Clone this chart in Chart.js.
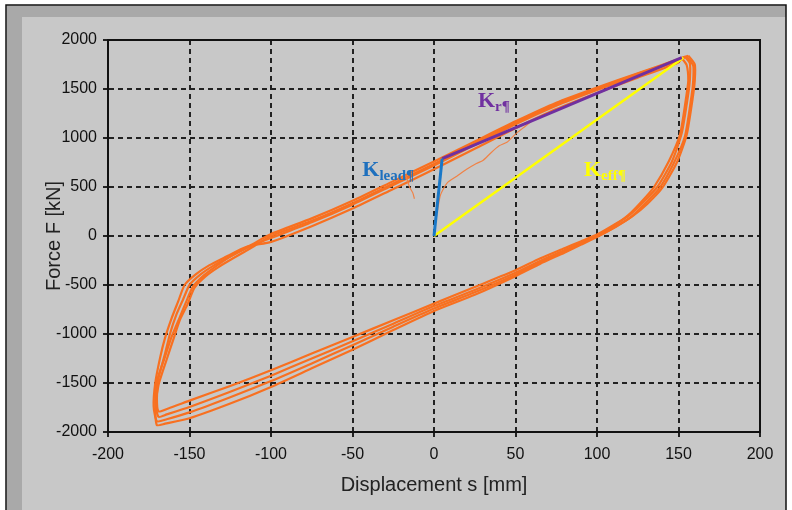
<!DOCTYPE html>
<html>
<head>
<meta charset="utf-8">
<script src="https://cdn.jsdelivr.net/npm/chart.js@4/dist/chart.umd.min.js"></script>
<style>
  html, body { margin: 0; padding: 0; background: #fff; }
  #wrap { width: 792px; height: 510px; position: relative; }
</style>
</head>
<body>
<div id="wrap"><canvas id="myChart"></canvas></div>
<script>
(function () {
  "use strict";

  // hysteresis cycles, displacement [mm] / force [kN]
  var disp1 = [154, 157, 157, 156, 152, 146, 137, 128, 120, 110, 100, 90, 80, 65, 50, 25, 0, -25, -50, -75, -100, -125, -150, -163, -169, -170, -169, -165, -162, -158, -154, -150, -143, -135, -125, -112, -100, -75, -50, -25, 0, 25, 50, 75, 100, 125, 150, 154];
  var force1 = [1830, 1760, 1600, 1450, 1050, 760, 500, 340, 214, 110, 15, -55, -125, -230, -350, -520, -690, -860, -1030, -1200, -1370, -1530, -1680, -1760, -1790, -1650, -1450, -1200, -1000, -800, -650, -500, -390, -300, -210, -100, -20, 140, 320, 520, 720, 930, 1140, 1330, 1490, 1640, 1790, 1830];

  var disp2 = [156, 160, 160, 159, 155, 149, 140, 131, 122, 112, 101, 90, 80, 65, 50, 25, 0, -25, -50, -75, -100, -125, -150, -164, -169, -171, -170, -165, -161, -156, -152, -148, -141, -133, -124, -111, -100, -75, -50, -25, 0, 25, 50, 75, 100, 125, 150, 156];
  var force2 = [1840, 1750, 1590, 1440, 1030, 750, 490, 330, 205, 100, 5, -70, -145, -255, -375, -550, -715, -895, -1075, -1250, -1425, -1590, -1745, -1820, -1845, -1700, -1480, -1230, -1030, -830, -670, -520, -400, -300, -200, -80, 20, 180, 360, 560, 760, 965, 1170, 1360, 1515, 1660, 1805, 1840];

  var disp3 = [152, 155, 156, 155, 151, 144, 135, 127, 119, 110, 100, 90, 80, 65, 50, 25, 0, -25, -50, -75, -100, -125, -150, -164, -170, -172, -171, -168, -165, -161, -157, -153, -146, -138, -128, -115, -100, -75, -50, -25, 0, 25, 50, 75, 100, 125, 150, 152];
  var force3 = [1815, 1745, 1590, 1450, 1040, 760, 500, 345, 210, 100, 0, -80, -160, -270, -395, -575, -740, -925, -1115, -1300, -1480, -1645, -1800, -1870, -1890, -1740, -1500, -1240, -1040, -840, -670, -500, -390, -300, -215, -110, -60, 100, 280, 480, 680, 890, 1100, 1295, 1460, 1615, 1770, 1815];

  var disp4 = [155, 159, 159, 158, 154, 147, 138, 129, 121, 111, 100, 90, 80, 65, 50, 25, 0, -25, -50, -75, -100, -125, -150, -165, -170, -171, -169, -164, -160, -156, -151, -147, -140, -132, -123, -110, -100, -75, -50, -25, 0, 25, 50, 75, 100, 125, 150, 155];
  var force4 = [1830, 1740, 1580, 1430, 1020, 740, 480, 325, 195, 90, -10, -90, -170, -285, -410, -600, -765, -960, -1160, -1350, -1540, -1710, -1860, -1915, -1930, -1760, -1520, -1260, -1060, -860, -690, -530, -410, -315, -225, -100, 0, 155, 335, 535, 735, 945, 1155, 1345, 1505, 1655, 1800, 1830];

  // first loading (thin lines)
  var initDisp = [2, 4, 8, 14, 20, 26, 30, 35, 40, 45, 50, 56, 62];
  var initForce = [250, 420, 540, 610, 680, 740, 770, 850, 920, 960, 1040, 1120, 1200];
  var hookDisp = [-12, -13, -15, -17, -18];
  var hookForce = [380, 440, 500, 600, 630];

  // stiffness lines
  var kleadDisp = [0, 5];
  var kleadForce = [0, 790];
  var krDisp = [5, 152];
  var krForce = [790, 1820];
  var keffDisp = [0, 153];
  var keffForce = [0, 1818];

  var xTicks = [-200, -150, -100, -50, 0, 50, 100, 150, 200];
  var yTicks = [-2000, -1500, -1000, -500, 0, 500, 1000, 1500, 2000];

  function pts(xs, ys) {
    var out = [];
    for (var i = 0; i < xs.length; i++) out.push({ x: xs[i], y: ys[i] });
    return out;
  }

  var orange = "rgb(248,112,32)";

  function loop(xs, ys) {
    return {
      data: pts(xs, ys),
      showLine: true,
      borderColor: orange,
      borderWidth: 2.2,
      pointRadius: 0,
      tension: 0.2,
      order: 5
    };
  }

  var framePlugin = {
    id: "frame",
    beforeDraw: function (chart) {
      var ctx = chart.ctx;
      var w = chart.width, h = chart.height;
      ctx.save();
      ctx.fillStyle = "#ffffff";
      ctx.fillRect(0, 0, w, h);
      ctx.fillStyle = "#c8c8c8";
      ctx.fillRect(6, 5, 780, h - 5);
      ctx.fillStyle = "#a9a9a9";
      ctx.fillRect(7, 6, 15, h - 6);
      ctx.fillRect(7, 6, 779, 11);
      ctx.strokeStyle = "#111";
      ctx.lineWidth = 1.5;
      ctx.strokeRect(6, 5, 780, h + 5);
      ctx.restore();
    },
    afterDatasetsDraw: function (chart) {
      var ctx = chart.ctx;
      var a = chart.chartArea;
      var sx = chart.scales.x, sy = chart.scales.y;
      ctx.save();
      ctx.strokeStyle = "#111";
      ctx.lineWidth = 2;
      ctx.strokeRect(a.left, a.top, a.right - a.left, a.bottom - a.top);

      function label(x, y, main, sub, color) {
        var px = sx.getPixelForValue(x), py = sy.getPixelForValue(y);
        ctx.fillStyle = color;
        ctx.textBaseline = "alphabetic";
        ctx.textAlign = "left";
        ctx.font = "bold 22px 'Liberation Serif', 'Times New Roman', serif";
        ctx.fillText(main, px, py);
        var wMain = ctx.measureText(main).width;
        ctx.font = "bold 15px 'Liberation Serif', 'Times New Roman', serif";
        ctx.fillText(sub, px + wMain, py + 4);
      }
      label(-44, 612, "K", "lead\u00b6", "rgb(30,112,190)");
      label(27, 1316, "K", "r\u00b6", "rgb(112,48,160)");
      label(92, 612, "K", "eff\u00b6", "rgb(255,255,0)");
      ctx.restore();
    }
  };

  var axisFont = { family: "'Liberation Sans', Arial, sans-serif", size: 16 };
  var titleFont = { family: "'Liberation Sans', Arial, sans-serif", size: 20 };
  function plain(v) { return String(v); }

  var ctx = document.getElementById("myChart");
  var myChart = new Chart(ctx, {
    type: "scatter",
    data: {
      datasets: [
        { data: pts(kleadDisp, kleadForce), showLine: true, borderColor: "rgb(25,120,200)", borderWidth: 3, pointRadius: 0, order: 1 },
        { data: pts(krDisp, krForce), showLine: true, borderColor: "rgb(112,48,160)", borderWidth: 3, pointRadius: 0, order: 2 },
        { data: pts(keffDisp, keffForce), showLine: true, borderColor: "rgb(255,255,0)", borderWidth: 2.5, pointRadius: 0, order: 3 },
        loop(disp1, force1),
        loop(disp2, force2),
        loop(disp3, force3),
        loop(disp4, force4),
        { data: pts(initDisp, initForce), showLine: true, borderColor: "rgb(240,130,70)", borderWidth: 1.2, pointRadius: 0, tension: 0.2, order: 4 },
        { data: pts(hookDisp, hookForce), showLine: true, borderColor: "rgb(240,130,70)", borderWidth: 1.2, pointRadius: 0, tension: 0.2, order: 4 }
      ]
    },
    options: {
      responsive: true,
      maintainAspectRatio: false,
      animation: false,
      devicePixelRatio: 1,
      layout: { padding: { left: 0, top: 40, right: 32, bottom: 0 } },
      plugins: { legend: { display: false }, tooltip: { enabled: false } },
      scales: {
        x: {
          type: "linear",
          min: -200,
          max: 200,
          afterBuildTicks: function (s) { s.ticks = xTicks.map(function (v) { return { value: v }; }); },
          afterFit: function (s) { s.height = 78; },
          ticks: { color: "#111", font: axisFont, padding: 8, callback: plain },
          grid: { color: "#222", lineWidth: 2, tickLength: 5, tickColor: "#222", tickWidth: 2 },
          border: { color: "#111", width: 2, dash: [5, 4] },
          title: { display: true, text: "Displacement s [mm]", color: "#222", font: titleFont, padding: { top: 0, bottom: 13 } }
        },
        y: {
          type: "linear",
          min: -2000,
          max: 2000,
          afterBuildTicks: function (s) { s.ticks = yTicks.map(function (v) { return { value: v }; }); },
          afterFit: function (s) { s.width = 108; },
          ticks: { color: "#111", font: axisFont, padding: 6, callback: plain },
          grid: { color: "#222", lineWidth: 2, tickLength: 5, tickColor: "#222", tickWidth: 2 },
          border: { color: "#111", width: 2, dash: [5, 4] },
          title: { display: true, text: "Force F [kN]", color: "#222", font: titleFont, padding: { top: 42, bottom: 0 } }
        }
      }
    },
    plugins: [framePlugin]
  });
})();
</script>
</body>
</html>
